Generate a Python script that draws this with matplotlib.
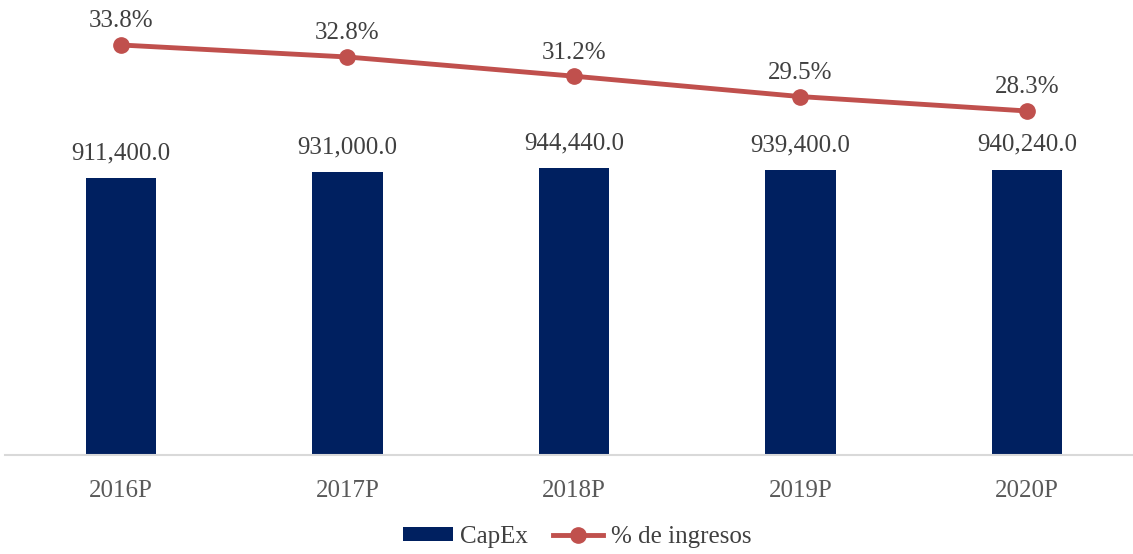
import numpy as np
import matplotlib.pyplot as plt

years = ['2016P', '2017P', '2018P', '2019P', '2020P']
capex = [911400.0, 931000.0, 944440.0, 939400.0, 940240.0]
pct_ingresos = [0.338, 0.328, 0.312, 0.295, 0.283]

bar_color = '#002060'
line_color = '#C0504D'
text_color = '#404040'

plt.rcParams['font.family'] = ['Liberation Serif', 'DejaVu Serif']

fig = plt.figure(figsize=(11.33, 5.54), dpi=100)
W, H = 1133, 554
ax1 = fig.add_axes([5 / W, (H - 455) / H, (1133 - 5) / W, 455 / H])
ax2 = ax1.twinx()

x = np.arange(len(years))
bars = ax1.bar(x, capex, width=0.31, color=bar_color, label='CapEx', zorder=2)
ax1.set_xlim(-0.512, 4.468)
ax1.set_ylim(0, 1499000)

for xi, v in zip(x, capex):
    ax1.annotate(f'{v:,.1f}', (xi, v), xytext=(0, 10), textcoords='offset points',
                 ha='center', va='bottom', fontsize=18, color=text_color)

line, = ax2.plot(x, pct_ingresos, color=line_color, lw=3.5, marker='o',
                 markersize=11, label='% de ingresos', zorder=3)
ax2.set_ylim(-0.0037, 0.3755)
for xi, p in zip(x, pct_ingresos):
    ax2.annotate(f'{p * 100:.1f}%', (xi, p), xytext=(0, 9), textcoords='offset points',
                 ha='center', va='bottom', fontsize=18, color=text_color)

# axis styling: only the baseline remains
for a in (ax1, ax2):
    for s in a.spines.values():
        s.set_visible(False)
    a.set_yticks([])
ax1.spines['bottom'].set_visible(True)
ax1.spines['bottom'].set_color('#D9D9D9')
ax1.spines['bottom'].set_linewidth(1.5)
ax1.set_xticks(x)
ax1.set_xticklabels(years, fontsize=18, color='#595959')
ax1.tick_params(axis='x', length=0, pad=18)

fig.legend(handles=[bars, line], loc='center', bbox_to_anchor=(577 / W, 1 - 537 / H),
           ncol=2, frameon=False, fontsize=18, handlelength=2.0, handletextpad=0.3,
           handleheight=0.5, columnspacing=1.0, labelcolor=text_color)

fig.savefig('out.png', dpi=100)
